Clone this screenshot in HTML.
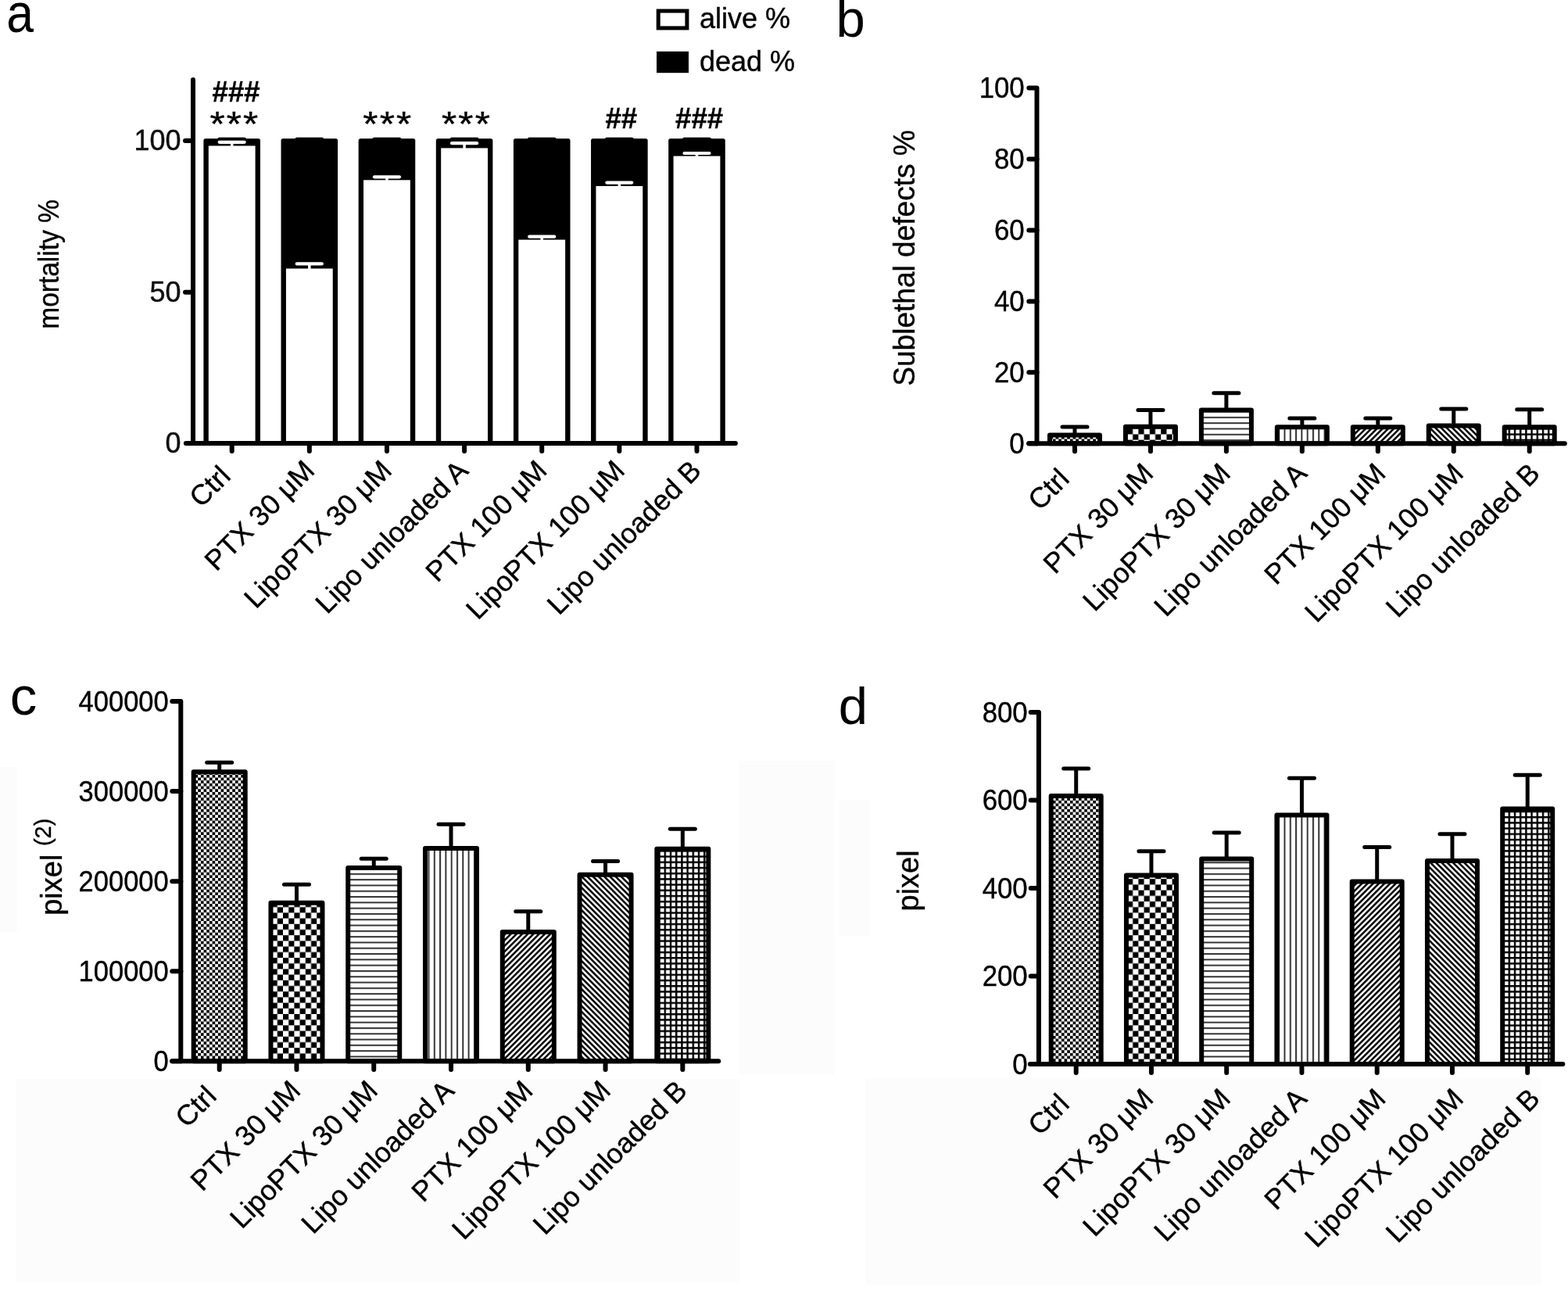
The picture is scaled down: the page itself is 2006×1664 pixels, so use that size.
<!DOCTYPE html>
<html><head><meta charset="utf-8"><title>Figure</title>
<style>
html,body{margin:0;padding:0;background:#fff;}
svg{display:block;font-family:'Liberation Sans', Arial, Helvetica, sans-serif;filter:blur(0.5px);}
text.t{stroke:#000;stroke-width:0.4px;}
</style></head>
<body>
<svg width="2006" height="1664" viewBox="0 0 2006 1664">
<rect width="2006" height="1664" fill="#fff"/>
<g fill="#fcfcfc">
<rect x="20" y="1380" width="927" height="260"/>
<rect x="1107" y="1379" width="865" height="264"/>
<rect x="945" y="973" width="122" height="402"/>
<rect x="1073.5" y="1023" width="39" height="174"/>
<rect x="0" y="981" width="22" height="211"/>
</g>
<defs>
<pattern id="pf" patternUnits="userSpaceOnUse" width="7.34" height="7.34"><rect width="7.34" height="7.34" fill="#fff"/><rect width="3.67" height="3.67" fill="#000"/><rect x="3.67" y="3.67" width="3.67" height="3.67" fill="#000"/></pattern>
<pattern id="pc" patternUnits="userSpaceOnUse" width="14.4" height="14.4" x="2" y="1"><rect width="14.4" height="14.4" fill="#fff"/><rect width="7.2" height="7.2" fill="#000"/><rect x="7.2" y="7.2" width="7.2" height="7.2" fill="#000"/></pattern>
<pattern id="ph" patternUnits="userSpaceOnUse" width="7.3" height="7.3"><rect width="7.3" height="7.3" fill="#fff"/><rect y="0" width="7.3" height="2" fill="#333"/></pattern>
<pattern id="pv" patternUnits="userSpaceOnUse" width="7.3" height="7.3"><rect width="7.3" height="7.3" fill="#fff"/><rect x="0" width="2" height="7.3" fill="#333"/></pattern>
<pattern id="pd" patternUnits="userSpaceOnUse" width="5.1" height="5.1" patternTransform="rotate(-45)"><rect width="5.1" height="5.1" fill="#fff"/><rect width="5.1" height="2.5" fill="#000"/></pattern>
<pattern id="pa" patternUnits="userSpaceOnUse" width="5.1" height="5.1" patternTransform="rotate(45)"><rect width="5.1" height="5.1" fill="#fff"/><rect width="5.1" height="2.5" fill="#000"/></pattern>
<pattern id="pg" patternUnits="userSpaceOnUse" width="7.2" height="7.2"><rect width="7.2" height="7.2" fill="#fff"/><rect width="7.2" height="2.4" fill="#000"/><rect width="2.4" height="7.2" fill="#000"/></pattern>
</defs>
<text transform="translate(8.2 41) scale(0.9 1)" font-size="69.5" fill="#000">a</text>
<rect x="842.2" y="14" width="36.7" height="21.9" fill="#fff" stroke="#000" stroke-width="5"/>
<rect x="840" y="65.8" width="41" height="27.4" fill="#000"/>
<text class="t" transform="translate(895 36.2)" font-size="36" fill="#000">alive %</text>
<text class="t" transform="translate(895 91)" font-size="36" fill="#000">dead %</text>
<rect x="260.4" y="177.3" width="72.6" height="389.7" rx="2.5" fill="#000"/>
<line x1="280.7" y1="178.3" x2="312.7" y2="178.3" stroke="#000" stroke-width="5" stroke-linecap="round"/>
<rect x="266.8" y="186.5" width="59.8" height="377.5" fill="#fff"/>
<line x1="296.7" y1="181.8" x2="296.7" y2="187" stroke="#fff" stroke-width="3.5" stroke-linecap="butt"/>
<line x1="280.7" y1="181.8" x2="312.7" y2="181.8" stroke="#fff" stroke-width="4.2" stroke-linecap="round"/>
<rect x="359.53" y="177.3" width="72.6" height="389.7" rx="2.5" fill="#000"/>
<line x1="379.83" y1="178.3" x2="411.83" y2="178.3" stroke="#000" stroke-width="5" stroke-linecap="round"/>
<rect x="365.93" y="343.5" width="59.8" height="220.5" fill="#fff"/>
<line x1="395.83" y1="337.4" x2="395.83" y2="344" stroke="#fff" stroke-width="3.5" stroke-linecap="butt"/>
<line x1="379.83" y1="337.4" x2="411.83" y2="337.4" stroke="#fff" stroke-width="4.2" stroke-linecap="round"/>
<rect x="458.66" y="177.3" width="72.6" height="389.7" rx="2.5" fill="#000"/>
<line x1="478.96" y1="178.3" x2="510.96" y2="178.3" stroke="#000" stroke-width="5" stroke-linecap="round"/>
<rect x="465.06" y="230.3" width="59.8" height="333.7" fill="#fff"/>
<line x1="494.96" y1="226.3" x2="494.96" y2="230.8" stroke="#fff" stroke-width="3.5" stroke-linecap="butt"/>
<line x1="478.96" y1="226.3" x2="510.96" y2="226.3" stroke="#fff" stroke-width="4.2" stroke-linecap="round"/>
<rect x="557.79" y="177.3" width="72.6" height="389.7" rx="2.5" fill="#000"/>
<line x1="578.09" y1="178.3" x2="610.09" y2="178.3" stroke="#000" stroke-width="5" stroke-linecap="round"/>
<rect x="564.19" y="189.4" width="59.8" height="374.6" fill="#fff"/>
<line x1="594.09" y1="183.2" x2="594.09" y2="189.9" stroke="#fff" stroke-width="3.5" stroke-linecap="butt"/>
<line x1="578.09" y1="183.2" x2="610.09" y2="183.2" stroke="#fff" stroke-width="4.2" stroke-linecap="round"/>
<rect x="656.92" y="177.3" width="72.6" height="389.7" rx="2.5" fill="#000"/>
<line x1="677.22" y1="178.3" x2="709.22" y2="178.3" stroke="#000" stroke-width="5" stroke-linecap="round"/>
<rect x="663.32" y="306.6" width="59.8" height="257.4" fill="#fff"/>
<line x1="693.22" y1="302.7" x2="693.22" y2="307.1" stroke="#fff" stroke-width="3.5" stroke-linecap="butt"/>
<line x1="677.22" y1="302.7" x2="709.22" y2="302.7" stroke="#fff" stroke-width="4.2" stroke-linecap="round"/>
<rect x="756.05" y="177.3" width="72.6" height="389.7" rx="2.5" fill="#000"/>
<line x1="776.35" y1="178.3" x2="808.35" y2="178.3" stroke="#000" stroke-width="5" stroke-linecap="round"/>
<rect x="762.45" y="238" width="59.8" height="326" fill="#fff"/>
<line x1="792.35" y1="233.6" x2="792.35" y2="238.5" stroke="#fff" stroke-width="3.5" stroke-linecap="butt"/>
<line x1="776.35" y1="233.6" x2="808.35" y2="233.6" stroke="#fff" stroke-width="4.2" stroke-linecap="round"/>
<rect x="855.18" y="177.3" width="72.6" height="389.7" rx="2.5" fill="#000"/>
<line x1="875.48" y1="178.3" x2="907.48" y2="178.3" stroke="#000" stroke-width="5" stroke-linecap="round"/>
<rect x="861.58" y="199.6" width="59.8" height="364.4" fill="#fff"/>
<line x1="891.48" y1="196" x2="891.48" y2="200.1" stroke="#fff" stroke-width="3.5" stroke-linecap="butt"/>
<line x1="875.48" y1="196" x2="907.48" y2="196" stroke="#fff" stroke-width="4.2" stroke-linecap="round"/>
<line x1="247" y1="102" x2="247" y2="567" stroke="#000" stroke-width="6" stroke-linecap="round"/>
<line x1="237" y1="180" x2="247" y2="180" stroke="#000" stroke-width="6" stroke-linecap="round"/>
<line x1="237" y1="373.7" x2="247" y2="373.7" stroke="#000" stroke-width="6" stroke-linecap="round"/>
<line x1="237.9" y1="567" x2="940.9" y2="567" stroke="#000" stroke-width="6" stroke-linecap="round"/>
<line x1="296.7" y1="567" x2="296.7" y2="577" stroke="#000" stroke-width="6" stroke-linecap="round"/>
<line x1="395.83" y1="567" x2="395.83" y2="577" stroke="#000" stroke-width="6" stroke-linecap="round"/>
<line x1="494.96" y1="567" x2="494.96" y2="577" stroke="#000" stroke-width="6" stroke-linecap="round"/>
<line x1="594.09" y1="567" x2="594.09" y2="577" stroke="#000" stroke-width="6" stroke-linecap="round"/>
<line x1="693.22" y1="567" x2="693.22" y2="577" stroke="#000" stroke-width="6" stroke-linecap="round"/>
<line x1="792.35" y1="567" x2="792.35" y2="577" stroke="#000" stroke-width="6" stroke-linecap="round"/>
<line x1="891.48" y1="567" x2="891.48" y2="577" stroke="#000" stroke-width="6" stroke-linecap="round"/>
<text class="t" transform="translate(231.6 191.9)" font-size="36" text-anchor="end" fill="#111">100</text>
<text class="t" transform="translate(231.6 385.6)" font-size="36" text-anchor="end" fill="#111">50</text>
<text class="t" transform="translate(231.6 578.9)" font-size="36" text-anchor="end" fill="#111">0</text>
<text class="t" transform="translate(271.6 130.4)" font-size="36.5" font-weight="bold" fill="#000">###</text>
<text class="t" transform="translate(864.1 163.9)" font-size="36.5" font-weight="bold" fill="#000">###</text>
<text class="t" transform="translate(774.4 163.9)" font-size="36.5" font-weight="bold" fill="#000">##</text>
<text class="t" transform="translate(300.4 173.8) scale(1.12 1)" font-size="44" text-anchor="middle" fill="#000" letter-spacing="1.9" stroke="#000" stroke-width="0.7">***</text>
<text class="t" transform="translate(496.3 173.8) scale(1.12 1)" font-size="44" text-anchor="middle" fill="#000" letter-spacing="1.9" stroke="#000" stroke-width="0.7">***</text>
<text class="t" transform="translate(597 173.8) scale(1.12 1)" font-size="44" text-anchor="middle" fill="#000" letter-spacing="1.9" stroke="#000" stroke-width="0.7">***</text>
<text class="t" transform="translate(74.6 338) rotate(-90) scale(0.917 1)" font-size="36.5" text-anchor="middle" fill="#000">mortality %</text>
<text class="t" transform="translate(303.9 603.9) rotate(-45)" font-size="36" text-anchor="end" fill="#000">Ctrl </text>
<text class="t" transform="translate(404.5 603.9) rotate(-45)" font-size="36" text-anchor="end" fill="#000">PTX 30 μM</text>
<text class="t" transform="translate(503.2 603.9) rotate(-45)" font-size="36" text-anchor="end" fill="#000">LipoPTX 30 μM</text>
<text class="t" transform="translate(601 603.9) rotate(-45)" font-size="36" text-anchor="end" fill="#000">Lipo unloaded A</text>
<text class="t" transform="translate(701.6 603.9) rotate(-45)" font-size="36" text-anchor="end" fill="#000">PTX 100 μM</text>
<text class="t" transform="translate(801.3 603.9) rotate(-45)" font-size="36" text-anchor="end" fill="#000">LipoPTX 100 μM</text>
<text class="t" transform="translate(899.1 603.9) rotate(-45)" font-size="36" text-anchor="end" fill="#000">Lipo unloaded B</text>
<text transform="translate(1069.5 47.4)" font-size="67" fill="#000">b</text>
<line x1="1375" y1="556.6" x2="1375" y2="546" stroke="#000" stroke-width="5" stroke-linecap="butt"/>
<line x1="1359" y1="546" x2="1391" y2="546" stroke="#000" stroke-width="5" stroke-linecap="round"/>
<rect x="1343" y="556.6" width="64" height="10.7" fill="url(#pf)" stroke="#000" stroke-width="6" stroke-linejoin="round"/>
<line x1="1471.95" y1="545.8" x2="1471.95" y2="524.5" stroke="#000" stroke-width="5" stroke-linecap="butt"/>
<line x1="1455.95" y1="524.5" x2="1487.95" y2="524.5" stroke="#000" stroke-width="5" stroke-linecap="round"/>
<rect x="1439.95" y="545.8" width="64" height="21.5" fill="url(#pc)" stroke="#000" stroke-width="6" stroke-linejoin="round"/>
<line x1="1568.9" y1="524.5" x2="1568.9" y2="502.7" stroke="#000" stroke-width="5" stroke-linecap="butt"/>
<line x1="1552.9" y1="502.7" x2="1584.9" y2="502.7" stroke="#000" stroke-width="5" stroke-linecap="round"/>
<rect x="1536.9" y="524.5" width="64" height="42.8" fill="url(#ph)" stroke="#000" stroke-width="6" stroke-linejoin="round"/>
<line x1="1665.85" y1="546.2" x2="1665.85" y2="534.9" stroke="#000" stroke-width="5" stroke-linecap="butt"/>
<line x1="1649.85" y1="534.9" x2="1681.85" y2="534.9" stroke="#000" stroke-width="5" stroke-linecap="round"/>
<rect x="1633.85" y="546.2" width="64" height="21.1" fill="url(#pv)" stroke="#000" stroke-width="6" stroke-linejoin="round"/>
<line x1="1762.8" y1="546.2" x2="1762.8" y2="534.9" stroke="#000" stroke-width="5" stroke-linecap="butt"/>
<line x1="1746.8" y1="534.9" x2="1778.8" y2="534.9" stroke="#000" stroke-width="5" stroke-linecap="round"/>
<rect x="1730.8" y="546.2" width="64" height="21.1" fill="url(#pd)" stroke="#000" stroke-width="6" stroke-linejoin="round"/>
<line x1="1859.75" y1="544.6" x2="1859.75" y2="523" stroke="#000" stroke-width="5" stroke-linecap="butt"/>
<line x1="1843.75" y1="523" x2="1875.75" y2="523" stroke="#000" stroke-width="5" stroke-linecap="round"/>
<rect x="1827.75" y="544.6" width="64" height="22.7" fill="url(#pa)" stroke="#000" stroke-width="6" stroke-linejoin="round"/>
<line x1="1956.7" y1="546.2" x2="1956.7" y2="523.8" stroke="#000" stroke-width="5" stroke-linecap="butt"/>
<line x1="1940.7" y1="523.8" x2="1972.7" y2="523.8" stroke="#000" stroke-width="5" stroke-linecap="round"/>
<rect x="1924.7" y="546.2" width="64" height="21.1" fill="url(#pg)" stroke="#000" stroke-width="6" stroke-linejoin="round"/>
<path d="M1316.3 112.5 L1326.5 112.5 L1326.5 567.3" fill="none" stroke="#000" stroke-width="6" stroke-linejoin="round" stroke-linecap="round"/>
<line x1="1316.3" y1="567.3" x2="1326.5" y2="567.3" stroke="#000" stroke-width="6" stroke-linecap="round"/>
<line x1="1316.3" y1="476.34" x2="1326.5" y2="476.34" stroke="#000" stroke-width="6" stroke-linecap="round"/>
<line x1="1316.3" y1="385.38" x2="1326.5" y2="385.38" stroke="#000" stroke-width="6" stroke-linecap="round"/>
<line x1="1316.3" y1="294.42" x2="1326.5" y2="294.42" stroke="#000" stroke-width="6" stroke-linecap="round"/>
<line x1="1316.3" y1="203.46" x2="1326.5" y2="203.46" stroke="#000" stroke-width="6" stroke-linecap="round"/>
<line x1="1316.2" y1="567.3" x2="2001.8" y2="567.3" stroke="#000" stroke-width="6" stroke-linecap="round"/>
<line x1="1375" y1="567.3" x2="1375" y2="577.3" stroke="#000" stroke-width="6" stroke-linecap="round"/>
<line x1="1471.95" y1="567.3" x2="1471.95" y2="577.3" stroke="#000" stroke-width="6" stroke-linecap="round"/>
<line x1="1568.9" y1="567.3" x2="1568.9" y2="577.3" stroke="#000" stroke-width="6" stroke-linecap="round"/>
<line x1="1665.85" y1="567.3" x2="1665.85" y2="577.3" stroke="#000" stroke-width="6" stroke-linecap="round"/>
<line x1="1762.8" y1="567.3" x2="1762.8" y2="577.3" stroke="#000" stroke-width="6" stroke-linecap="round"/>
<line x1="1859.75" y1="567.3" x2="1859.75" y2="577.3" stroke="#000" stroke-width="6" stroke-linecap="round"/>
<line x1="1956.7" y1="567.3" x2="1956.7" y2="577.3" stroke="#000" stroke-width="6" stroke-linecap="round"/>
<text class="t" transform="translate(1310.7 579.7) scale(0.94 1)" font-size="37" text-anchor="end" fill="#000">0</text>
<text class="t" transform="translate(1310.7 488.74) scale(0.94 1)" font-size="37" text-anchor="end" fill="#000">20</text>
<text class="t" transform="translate(1310.7 397.78) scale(0.94 1)" font-size="37" text-anchor="end" fill="#000">40</text>
<text class="t" transform="translate(1310.7 306.82) scale(0.94 1)" font-size="37" text-anchor="end" fill="#000">60</text>
<text class="t" transform="translate(1310.7 215.86) scale(0.94 1)" font-size="37" text-anchor="end" fill="#000">80</text>
<text class="t" transform="translate(1310.7 124.9) scale(0.94 1)" font-size="37" text-anchor="end" fill="#000">100</text>
<text class="t" transform="translate(1170 330) rotate(-90) scale(0.975 1)" font-size="38" text-anchor="middle" fill="#000">Sublethal defects %</text>
<text class="t" transform="translate(1376.9 607.6) rotate(-45)" font-size="36" text-anchor="end" fill="#000">Ctrl </text>
<text class="t" transform="translate(1477.5 607.6) rotate(-45)" font-size="36" text-anchor="end" fill="#000">PTX 30 μM</text>
<text class="t" transform="translate(1576.2 607.6) rotate(-45)" font-size="36" text-anchor="end" fill="#000">LipoPTX 30 μM</text>
<text class="t" transform="translate(1674 607.6) rotate(-45)" font-size="36" text-anchor="end" fill="#000">Lipo unloaded A</text>
<text class="t" transform="translate(1774.6 607.6) rotate(-45)" font-size="36" text-anchor="end" fill="#000">PTX 100 μM</text>
<text class="t" transform="translate(1874.3 607.6) rotate(-45)" font-size="36" text-anchor="end" fill="#000">LipoPTX 100 μM</text>
<text class="t" transform="translate(1972.1 607.6) rotate(-45)" font-size="36" text-anchor="end" fill="#000">Lipo unloaded B</text>
<text transform="translate(12.7 913.7)" font-size="69" fill="#000">c</text>
<line x1="280.7" y1="987.3" x2="280.7" y2="975.3" stroke="#000" stroke-width="5" stroke-linecap="butt"/>
<line x1="264.7" y1="975.3" x2="296.7" y2="975.3" stroke="#000" stroke-width="5" stroke-linecap="round"/>
<rect x="247.7" y="987.3" width="66" height="370" fill="url(#pf)" stroke="#000" stroke-width="6" stroke-linejoin="round"/>
<line x1="379.47" y1="1154.8" x2="379.47" y2="1131.3" stroke="#000" stroke-width="5" stroke-linecap="butt"/>
<line x1="363.47" y1="1131.3" x2="395.47" y2="1131.3" stroke="#000" stroke-width="5" stroke-linecap="round"/>
<rect x="346.47" y="1154.8" width="66" height="202.5" fill="url(#pc)" stroke="#000" stroke-width="6" stroke-linejoin="round"/>
<line x1="478.24" y1="1109.9" x2="478.24" y2="1098.3" stroke="#000" stroke-width="5" stroke-linecap="butt"/>
<line x1="462.24" y1="1098.3" x2="494.24" y2="1098.3" stroke="#000" stroke-width="5" stroke-linecap="round"/>
<rect x="445.24" y="1109.9" width="66" height="247.4" fill="url(#ph)" stroke="#000" stroke-width="6" stroke-linejoin="round"/>
<line x1="577.01" y1="1085" x2="577.01" y2="1054.3" stroke="#000" stroke-width="5" stroke-linecap="butt"/>
<line x1="561.01" y1="1054.3" x2="593.01" y2="1054.3" stroke="#000" stroke-width="5" stroke-linecap="round"/>
<rect x="544.01" y="1085" width="66" height="272.3" fill="url(#pv)" stroke="#000" stroke-width="6" stroke-linejoin="round"/>
<line x1="675.78" y1="1192" x2="675.78" y2="1165.7" stroke="#000" stroke-width="5" stroke-linecap="butt"/>
<line x1="659.78" y1="1165.7" x2="691.78" y2="1165.7" stroke="#000" stroke-width="5" stroke-linecap="round"/>
<rect x="642.78" y="1192" width="66" height="165.3" fill="url(#pd)" stroke="#000" stroke-width="6" stroke-linejoin="round"/>
<line x1="774.55" y1="1118.7" x2="774.55" y2="1101.4" stroke="#000" stroke-width="5" stroke-linecap="butt"/>
<line x1="758.55" y1="1101.4" x2="790.55" y2="1101.4" stroke="#000" stroke-width="5" stroke-linecap="round"/>
<rect x="741.55" y="1118.7" width="66" height="238.6" fill="url(#pa)" stroke="#000" stroke-width="6" stroke-linejoin="round"/>
<line x1="873.32" y1="1085.8" x2="873.32" y2="1060.2" stroke="#000" stroke-width="5" stroke-linecap="butt"/>
<line x1="857.32" y1="1060.2" x2="889.32" y2="1060.2" stroke="#000" stroke-width="5" stroke-linecap="round"/>
<rect x="840.32" y="1085.8" width="66" height="271.5" fill="url(#pg)" stroke="#000" stroke-width="6" stroke-linejoin="round"/>
<path d="M220.3 897 L231.3 897 L231.3 1357.3" fill="none" stroke="#000" stroke-width="6" stroke-linejoin="round" stroke-linecap="round"/>
<line x1="220.3" y1="1357.3" x2="231.3" y2="1357.3" stroke="#000" stroke-width="6" stroke-linecap="round"/>
<line x1="220.3" y1="1242.22" x2="231.3" y2="1242.22" stroke="#000" stroke-width="6" stroke-linecap="round"/>
<line x1="220.3" y1="1127.15" x2="231.3" y2="1127.15" stroke="#000" stroke-width="6" stroke-linecap="round"/>
<line x1="220.3" y1="1012.08" x2="231.3" y2="1012.08" stroke="#000" stroke-width="6" stroke-linecap="round"/>
<line x1="220.2" y1="1357.3" x2="919.2" y2="1357.3" stroke="#000" stroke-width="6" stroke-linecap="round"/>
<line x1="280.7" y1="1357.3" x2="280.7" y2="1368.1" stroke="#000" stroke-width="6" stroke-linecap="round"/>
<line x1="379.47" y1="1357.3" x2="379.47" y2="1368.1" stroke="#000" stroke-width="6" stroke-linecap="round"/>
<line x1="478.24" y1="1357.3" x2="478.24" y2="1368.1" stroke="#000" stroke-width="6" stroke-linecap="round"/>
<line x1="577.01" y1="1357.3" x2="577.01" y2="1368.1" stroke="#000" stroke-width="6" stroke-linecap="round"/>
<line x1="675.78" y1="1357.3" x2="675.78" y2="1368.1" stroke="#000" stroke-width="6" stroke-linecap="round"/>
<line x1="774.55" y1="1357.3" x2="774.55" y2="1368.1" stroke="#000" stroke-width="6" stroke-linecap="round"/>
<line x1="873.32" y1="1357.3" x2="873.32" y2="1368.1" stroke="#000" stroke-width="6" stroke-linecap="round"/>
<text class="t" transform="translate(215.7 1370.2) scale(0.915 1)" font-size="37.7" text-anchor="end" fill="#000">0</text>
<text class="t" transform="translate(215.7 1255.12) scale(0.915 1)" font-size="37.7" text-anchor="end" fill="#000">100000</text>
<text class="t" transform="translate(215.7 1140.05) scale(0.915 1)" font-size="37.7" text-anchor="end" fill="#000">200000</text>
<text class="t" transform="translate(215.7 1024.98) scale(0.915 1)" font-size="37.7" text-anchor="end" fill="#000">300000</text>
<text class="t" transform="translate(215.7 909.9) scale(0.915 1)" font-size="37.7" text-anchor="end" fill="#000">400000</text>
<text class="t" transform="translate(78.7 1170.8) rotate(-90)" font-size="38" fill="#000">pixel <tspan font-size="29" dy="-14.2">(2)</tspan></text>
<text class="t" transform="translate(285.9 1397.1) rotate(-45)" font-size="36" text-anchor="end" fill="#000">Ctrl </text>
<text class="t" transform="translate(386.5 1397.1) rotate(-45)" font-size="36" text-anchor="end" fill="#000">PTX 30 μM</text>
<text class="t" transform="translate(485.2 1397.1) rotate(-45)" font-size="36" text-anchor="end" fill="#000">LipoPTX 30 μM</text>
<text class="t" transform="translate(583 1397.1) rotate(-45)" font-size="36" text-anchor="end" fill="#000">Lipo unloaded A</text>
<text class="t" transform="translate(683.6 1397.1) rotate(-45)" font-size="36" text-anchor="end" fill="#000">PTX 100 μM</text>
<text class="t" transform="translate(783.3 1397.1) rotate(-45)" font-size="36" text-anchor="end" fill="#000">LipoPTX 100 μM</text>
<text class="t" transform="translate(881.1 1397.1) rotate(-45)" font-size="36" text-anchor="end" fill="#000">Lipo unloaded B</text>
<text transform="translate(1072.7 925.5)" font-size="67" fill="#000">d</text>
<line x1="1376.7" y1="1017.9" x2="1376.7" y2="983" stroke="#000" stroke-width="5" stroke-linecap="butt"/>
<line x1="1360.7" y1="983" x2="1392.7" y2="983" stroke="#000" stroke-width="5" stroke-linecap="round"/>
<rect x="1344.7" y="1017.9" width="64" height="343" fill="url(#pf)" stroke="#000" stroke-width="6" stroke-linejoin="round"/>
<line x1="1472.95" y1="1119.6" x2="1472.95" y2="1088.8" stroke="#000" stroke-width="5" stroke-linecap="butt"/>
<line x1="1456.95" y1="1088.8" x2="1488.95" y2="1088.8" stroke="#000" stroke-width="5" stroke-linecap="round"/>
<rect x="1440.95" y="1119.6" width="64" height="241.3" fill="url(#pc)" stroke="#000" stroke-width="6" stroke-linejoin="round"/>
<line x1="1569.2" y1="1098.5" x2="1569.2" y2="1065.1" stroke="#000" stroke-width="5" stroke-linecap="butt"/>
<line x1="1553.2" y1="1065.1" x2="1585.2" y2="1065.1" stroke="#000" stroke-width="5" stroke-linecap="round"/>
<rect x="1537.2" y="1098.5" width="64" height="262.4" fill="url(#ph)" stroke="#000" stroke-width="6" stroke-linejoin="round"/>
<line x1="1665.45" y1="1042.6" x2="1665.45" y2="995.2" stroke="#000" stroke-width="5" stroke-linecap="butt"/>
<line x1="1649.45" y1="995.2" x2="1681.45" y2="995.2" stroke="#000" stroke-width="5" stroke-linecap="round"/>
<rect x="1633.45" y="1042.6" width="64" height="318.3" fill="url(#pv)" stroke="#000" stroke-width="6" stroke-linejoin="round"/>
<line x1="1761.7" y1="1127.4" x2="1761.7" y2="1083.6" stroke="#000" stroke-width="5" stroke-linecap="butt"/>
<line x1="1745.7" y1="1083.6" x2="1777.7" y2="1083.6" stroke="#000" stroke-width="5" stroke-linecap="round"/>
<rect x="1729.7" y="1127.4" width="64" height="233.5" fill="url(#pd)" stroke="#000" stroke-width="6" stroke-linejoin="round"/>
<line x1="1857.95" y1="1101" x2="1857.95" y2="1066.8" stroke="#000" stroke-width="5" stroke-linecap="butt"/>
<line x1="1841.95" y1="1066.8" x2="1873.95" y2="1066.8" stroke="#000" stroke-width="5" stroke-linecap="round"/>
<rect x="1825.95" y="1101" width="64" height="259.9" fill="url(#pa)" stroke="#000" stroke-width="6" stroke-linejoin="round"/>
<line x1="1954.2" y1="1034.4" x2="1954.2" y2="991.3" stroke="#000" stroke-width="5" stroke-linecap="butt"/>
<line x1="1938.2" y1="991.3" x2="1970.2" y2="991.3" stroke="#000" stroke-width="5" stroke-linecap="round"/>
<rect x="1922.2" y="1034.4" width="64" height="326.5" fill="url(#pg)" stroke="#000" stroke-width="6" stroke-linejoin="round"/>
<path d="M1318.7 911 L1328.9 911 L1328.9 1360.9" fill="none" stroke="#000" stroke-width="6" stroke-linejoin="round" stroke-linecap="round"/>
<line x1="1318.7" y1="1360.9" x2="1328.9" y2="1360.9" stroke="#000" stroke-width="6" stroke-linecap="round"/>
<line x1="1318.7" y1="1248.43" x2="1328.9" y2="1248.43" stroke="#000" stroke-width="6" stroke-linecap="round"/>
<line x1="1318.7" y1="1135.95" x2="1328.9" y2="1135.95" stroke="#000" stroke-width="6" stroke-linecap="round"/>
<line x1="1318.7" y1="1023.48" x2="1328.9" y2="1023.48" stroke="#000" stroke-width="6" stroke-linecap="round"/>
<line x1="1317.9" y1="1360.9" x2="1999.3" y2="1360.9" stroke="#000" stroke-width="6" stroke-linecap="round"/>
<line x1="1376.7" y1="1360.9" x2="1376.7" y2="1371.9" stroke="#000" stroke-width="6" stroke-linecap="round"/>
<line x1="1472.95" y1="1360.9" x2="1472.95" y2="1371.9" stroke="#000" stroke-width="6" stroke-linecap="round"/>
<line x1="1569.2" y1="1360.9" x2="1569.2" y2="1371.9" stroke="#000" stroke-width="6" stroke-linecap="round"/>
<line x1="1665.45" y1="1360.9" x2="1665.45" y2="1371.9" stroke="#000" stroke-width="6" stroke-linecap="round"/>
<line x1="1761.7" y1="1360.9" x2="1761.7" y2="1371.9" stroke="#000" stroke-width="6" stroke-linecap="round"/>
<line x1="1857.95" y1="1360.9" x2="1857.95" y2="1371.9" stroke="#000" stroke-width="6" stroke-linecap="round"/>
<line x1="1954.2" y1="1360.9" x2="1954.2" y2="1371.9" stroke="#000" stroke-width="6" stroke-linecap="round"/>
<text class="t" transform="translate(1314.7 1373.9) scale(0.94 1)" font-size="37" text-anchor="end" fill="#000">0</text>
<text class="t" transform="translate(1314.7 1261.43) scale(0.94 1)" font-size="37" text-anchor="end" fill="#000">200</text>
<text class="t" transform="translate(1314.7 1148.95) scale(0.94 1)" font-size="37" text-anchor="end" fill="#000">400</text>
<text class="t" transform="translate(1314.7 1036.47) scale(0.94 1)" font-size="37" text-anchor="end" fill="#000">600</text>
<text class="t" transform="translate(1314.7 924) scale(0.94 1)" font-size="37" text-anchor="end" fill="#000">800</text>
<text class="t" transform="translate(1174.7 1126.4) rotate(-90)" font-size="38" text-anchor="middle" fill="#000">pixel</text>
<text class="t" transform="translate(1376.9 1407.2) rotate(-45)" font-size="36" text-anchor="end" fill="#000">Ctrl </text>
<text class="t" transform="translate(1477.5 1407.2) rotate(-45)" font-size="36" text-anchor="end" fill="#000">PTX 30 μM</text>
<text class="t" transform="translate(1576.2 1407.2) rotate(-45)" font-size="36" text-anchor="end" fill="#000">LipoPTX 30 μM</text>
<text class="t" transform="translate(1674 1407.2) rotate(-45)" font-size="36" text-anchor="end" fill="#000">Lipo unloaded A</text>
<text class="t" transform="translate(1774.6 1407.2) rotate(-45)" font-size="36" text-anchor="end" fill="#000">PTX 100 μM</text>
<text class="t" transform="translate(1874.3 1407.2) rotate(-45)" font-size="36" text-anchor="end" fill="#000">LipoPTX 100 μM</text>
<text class="t" transform="translate(1972.1 1407.2) rotate(-45)" font-size="36" text-anchor="end" fill="#000">Lipo unloaded B</text>
</svg>
</body></html>
